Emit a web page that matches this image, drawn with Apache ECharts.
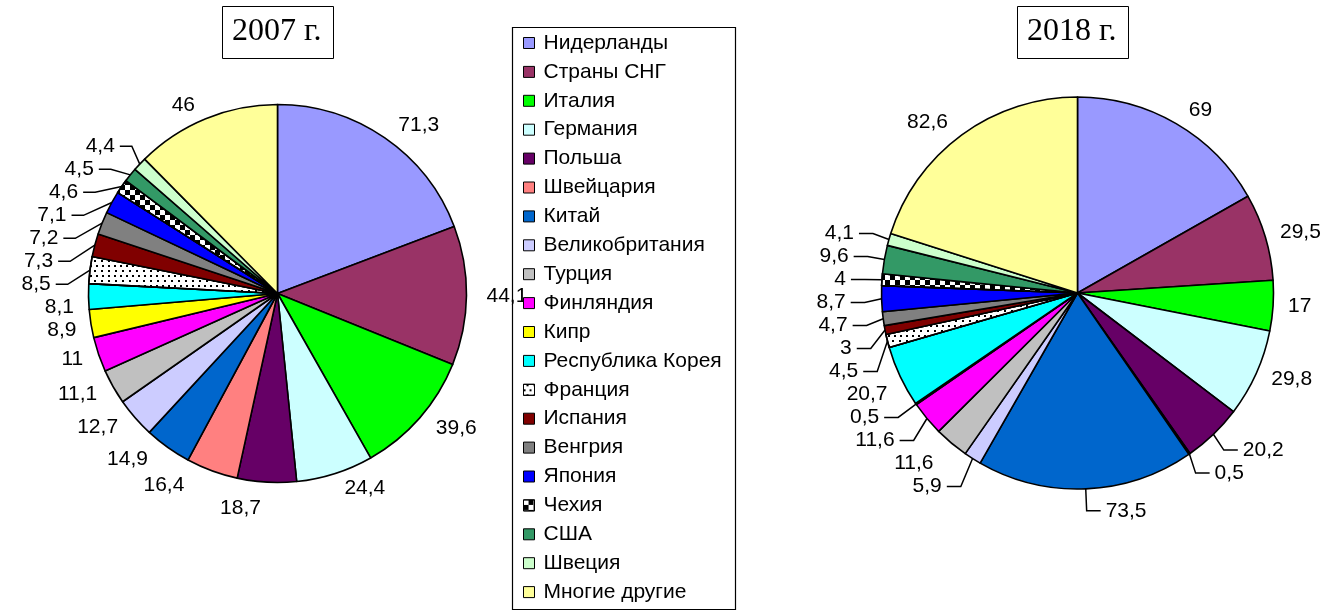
<!DOCTYPE html>
<html><head><meta charset="utf-8">
<script src="https://cdn.jsdelivr.net/npm/echarts@6/dist/echarts.min.js"></script>
<style>html,body{margin:0;padding:0;background:#fff}#c{width:1334px;height:612px}</style>
</head><body><div id="c"></div>
<script>
const categories = ['Нидерланды','Страны СНГ','Италия','Германия','Польша','Швейцария','Китай','Великобритания','Турция','Финляндия','Кипр','Республика Корея','Франция','Испания','Венгрия','Япония','Чехия','США','Швеция','Многие другие'];
const values2007 = [71.3,44.1,39.6,24.4,18.7,16.4,14.9,12.7,11.1,11,8.9,8.1,8.5,7.3,7.2,7.1,4.6,4.5,4.4,46];
const values2018 = [69,29.5,17,29.8,20.2,0.5,73.5,5.9,11.6,11.6,0.5,20.7,4.5,3,4.7,8.7,4,9.6,4.1,82.6];
const titles = ['2007 г.','2018 г.'];

const colors = ['#9999FF','#993366','#00FF00','#CCFFFF','#660066','#FF8080','#0066CC','#CCCCFF','#C0C0C0','#FF00FF','#FFFF00','#00FFFF','#FFFFFF','#800000','#808080','#0000FF','#FFFFFF','#339966','#CCFFCC','#FFFF99'];
const dotDecal = {symbol:'rect', symbolSize:1, color:'#000', dashArrayX:[[1.2,4],[0,2.6,1.2,1.4]], dashArrayY:[1.2,2.8], rotation:0};
const checkDecal = {symbol:'rect', symbolSize:1, color:'#000', dashArrayX:[[5,5],[0,5,5,0]], dashArrayY:[5,0], rotation:0};
const decals = {12: dotDecal, 16: checkDecal};
const lines2007 = new Set([12,13,14,15,16,17,18]);
const lines2018 = new Set([4,5,6,7,9,10,12,13,14,15,16,17,18]);

const FONT = 'Liberation Sans';
const fmt = p => String(p.value).replace('.', ',');

function buildData(vals, lines, lineLen){
  return categories.map((n,i)=>({
    name:n, value:vals[i],
    itemStyle: Object.assign({color:colors[i]}, decals[i] ? {decal:decals[i]} : {}),
    labelLine: lines.has(i) ? {show:true, length:lineLen[0], length2:lineLen[1]} : {show:false, length:15, length2:0}
  }));
}
function pie(vals, lines, center, r, lineLen){
  return {
    type:'pie', center:center, radius:r, startAngle:90, clockwise:true,
    avoidLabelOverlap:true, silent:true, animation:false,
    itemStyle:{borderColor:'#000', borderWidth:1.6},
    label:{position:'outside', formatter:fmt, fontFamily:FONT, fontSize:21, color:'#000'},
    labelLine:{length:15, length2:0, lineStyle:{color:'#000', width:1.5}},
    emphasis:{disabled:true},
    data: buildData(vals, lines, lineLen)
  };
}

const chart = echarts.init(document.getElementById('c'), null, {renderer:'canvas'});
const titleStyle = {fontFamily:'Liberation Serif', fontSize:32, fontWeight:'normal', color:'#000'};
chart.setOption({
  animation:false,
  backgroundColor:'#fff',
  title:[
    {text:titles[0], left:222, top:6, padding:[10,12,11,10], borderColor:'#000', borderWidth:1, textStyle:titleStyle},
    {text:titles[1], left:1017, top:6, padding:[10,12,11,10], borderColor:'#000', borderWidth:1, textStyle:titleStyle}
  ],
  legend:{
    orient:'vertical', left:523, top:32.5, padding:0, itemGap:7.9,
    itemWidth:11, itemHeight:11, icon:'rect', selectedMode:false,
    itemStyle:{borderColor:'#000', borderWidth:1},
    textStyle:{fontFamily:FONT, fontSize:21, color:'#000', padding:[0,0,0,4]},
    data:categories
  },
  graphic:[{type:'rect', shape:{x:512.5, y:27.5, width:223, height:582}, style:{fill:'none', stroke:'#000', lineWidth:1.2}, silent:true}],
  series:[
    pie(values2007, lines2007, [277.5,293.5], 189, [26,12]),
    pie(values2018, lines2018, [1077.5,293], 196, [22,14])
  ]
});
</script></body></html>
